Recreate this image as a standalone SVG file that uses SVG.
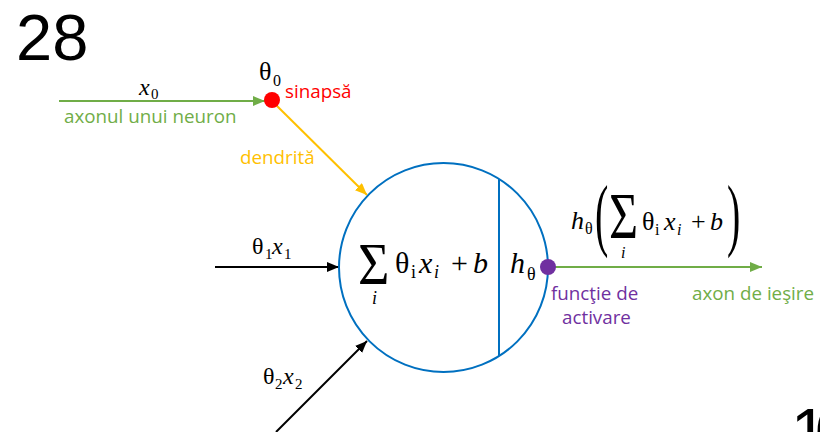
<svg xmlns="http://www.w3.org/2000/svg" width="820" height="432" viewBox="0 0 820 432">
<style>
.m{font-family:"Liberation Serif","Times New Roman",serif;fill:#000}
.it{font-style:italic}
.lbl{font-family:"Open Sans","Liberation Sans",sans-serif;font-size:18.8px}
.big{font-family:"Liberation Sans",Arial,sans-serif;fill:#000}
</style>
<defs>
<marker id="ag" viewBox="0 0 12 10" refX="12" refY="5" markerWidth="6" markerHeight="5" orient="auto" markerUnits="strokeWidth"><path d="M0,0L12,5L0,10z" fill="#70AD47"/></marker>
<marker id="ay" viewBox="0 0 12 10" refX="12" refY="5" markerWidth="6" markerHeight="5" orient="auto" markerUnits="strokeWidth"><path d="M0,0L12,5L0,10z" fill="#FFC000"/></marker>
<marker id="ak" viewBox="0 0 12 10" refX="12" refY="5" markerWidth="6" markerHeight="5" orient="auto" markerUnits="strokeWidth"><path d="M0,0L12,5L0,10z" fill="#000"/></marker>
</defs>
<text class="big" x="16" y="60" font-size="65">28</text>
<text class="big" y="454" font-size="65"><tspan x="791">1</tspan><tspan x="815">0</tspan></text>
<g id="connectors" fill="none" stroke-width="2">
<line x1="59" y1="101" x2="265" y2="101" stroke="#70AD47" marker-end="url(#ag)"/>
<line x1="276" y1="105" x2="367" y2="195" stroke="#FFC000" marker-end="url(#ay)"/>
<line x1="215" y1="267" x2="339" y2="267" stroke="#000" marker-end="url(#ak)"/>
<line x1="276" y1="432" x2="367" y2="341" stroke="#000" marker-end="url(#ak)"/>
<line x1="552" y1="267" x2="762" y2="267" stroke="#70AD47" marker-end="url(#ag)"/>
</g>
<g id="input0">
<text class="m it" x="139" y="95" font-size="24">x</text>
<text class="m" x="151" y="99" font-size="15">0</text>
<text class="lbl" x="64" y="123" fill="#70AD47">axonul unui neuron</text>
</g>
<g id="synapse">
<circle cx="272" cy="100" r="8" fill="#FF0000"/>
<text class="m" x="259" y="80" font-size="26">θ</text>
<text class="m" x="273" y="86" font-size="16">0</text>
<text class="lbl" x="285" y="98" fill="#FF0000">sinapsă</text>
<text class="lbl" x="240" y="164" fill="#FFC000">dendrită</text>
</g>
<g id="input1">
<text class="m" x="252" y="254" font-size="24">θ</text>
<text class="m" x="265" y="259" font-size="15">1</text>
<text class="m it" x="272" y="254" font-size="24">x</text>
<text class="m" x="284" y="259" font-size="15">1</text>
</g>
<g id="input2">
<text class="m" x="263" y="384" font-size="24">θ</text>
<text class="m" x="275" y="389" font-size="15">2</text>
<text class="m it" x="283" y="384" font-size="24">x</text>
<text class="m" x="295" y="389" font-size="15">2</text>
</g>
<g id="neuron">
<circle cx="443.5" cy="267.5" r="104.5" fill="none" stroke="#0070C0" stroke-width="2"/>
<line x1="499" y1="179" x2="499" y2="356" stroke="#0070C0" stroke-width="2"/>
<text class="m" transform="translate(358,284) scale(1,1.1)" font-size="54">Σ</text>
<text class="m it" x="372" y="304" font-size="18">i</text>
<text class="m" x="395" y="273" font-size="30">θ</text>
<text class="m" x="411" y="278" font-size="18">i</text>
<text class="m it" x="419" y="273" font-size="30">x</text>
<text class="m it" x="434" y="278" font-size="18">i</text>
<text class="m" x="451" y="273" font-size="30">+</text>
<text class="m it" x="473" y="273" font-size="30">b</text>
<text class="m it" x="510" y="273" font-size="30">h</text>
<text class="m" x="527" y="280" font-size="18">θ</text>
</g>
<g id="activation">
<circle cx="548" cy="267" r="8" fill="#7030A0"/>
<text class="lbl" x="551" y="300" fill="#7030A0">funcţie de</text>
<text class="lbl" x="562" y="324" fill="#7030A0">activare</text>
</g>
<g id="output">
<text class="m it" x="571" y="229" font-size="26">h</text>
<text class="m" x="585" y="234" font-size="16">θ</text>
<text class="m" transform="translate(595,241) scale(1,2)" font-size="40">(</text>
<text class="m" transform="translate(609,238) scale(1,1.3)" font-size="50">Σ</text>
<text class="m it" x="621" y="258" font-size="16">i</text>
<text class="m" x="642" y="230" font-size="26">θ</text>
<text class="m" x="655" y="235" font-size="16">i</text>
<text class="m it" x="664" y="230" font-size="26">x</text>
<text class="m it" x="677" y="235" font-size="16">i</text>
<text class="m" x="691" y="230" font-size="26">+</text>
<text class="m it" x="710" y="230" font-size="26">b</text>
<text class="m" transform="translate(727,241) scale(1,2)" font-size="40">)</text>
<text class="lbl" x="692" y="300" fill="#70AD47">axon de ieşire</text>
</g>
</svg>
